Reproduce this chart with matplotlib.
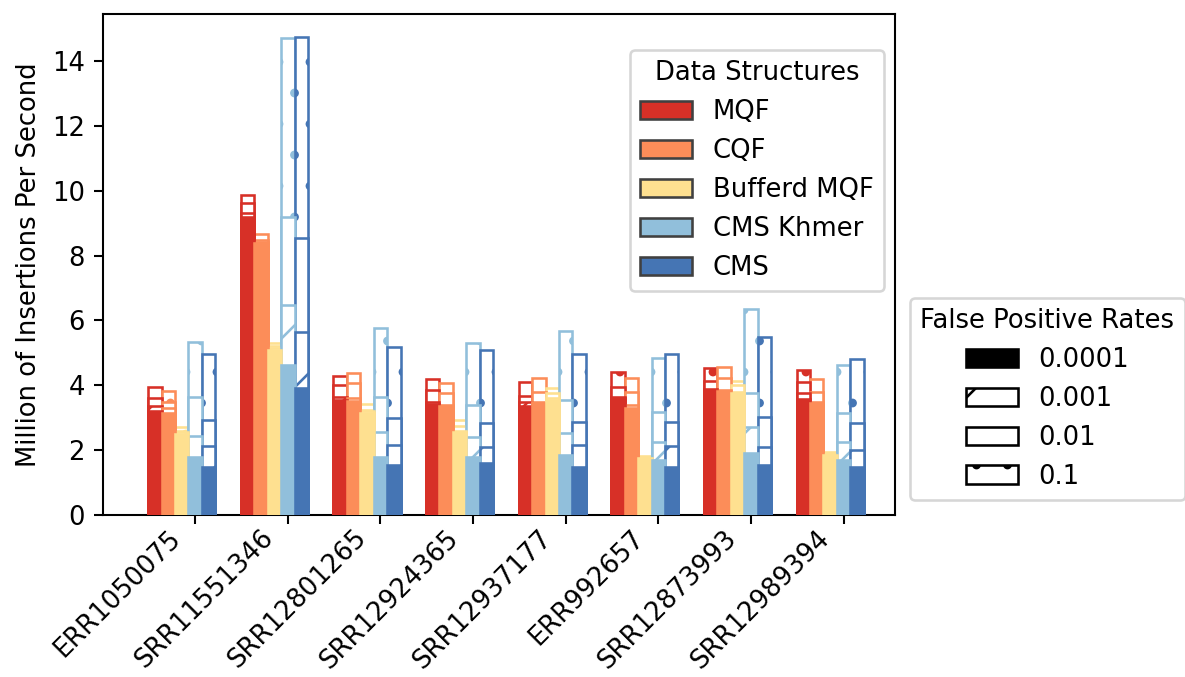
import matplotlib
matplotlib.use("Agg")
import matplotlib.pyplot as plt
from matplotlib.patches import Patch
from matplotlib.transforms import ScaledTranslation
import numpy as np

datasets = ['ERR1050075', 'SRR11551346', 'SRR12801265', 'SRR12924365',
            'SRR12937177', 'ERR992657', 'SRR12873993', 'SRR12989394']
structures = ['MQF', 'CQF', 'Bufferd MQF', 'CMS Khmer', 'CMS']
fpr_labels = ['0.0001', '0.001', '0.01', '0.1']

# throughput (million insertions / s) per dataset, for FPR 0.0001, 0.001, 0.01, 0.1
mqf = [[3.20, 3.35, 3.60, 3.95], [9.20, 9.30, 9.63, 9.87], [3.55, 3.65, 4.00, 4.29],
       [3.43, 3.50, 3.84, 4.18], [3.37, 3.50, 3.66, 4.11], [3.60, 3.65, 3.96, 4.42],
       [3.85, 3.88, 4.14, 4.52], [3.58, 3.75, 4.11, 4.47]]
cqf = [[3.15, 3.30, 3.50, 3.82], [8.38, 8.43, 8.47, 8.66], [3.52, 3.60, 4.06, 4.37],
       [3.36, 3.40, 3.75, 4.08], [3.45, 3.49, 3.80, 4.21], [3.29, 3.39, 3.80, 4.21],
       [3.83, 3.86, 4.21, 4.55], [3.44, 3.50, 3.80, 4.18]]
buffered_mqf = [[2.50, 2.55, 2.60, 2.70], [5.10, 5.15, 5.20, 5.29], [3.15, 3.20, 3.25, 3.42],
                [2.55, 2.60, 2.75, 2.93], [3.55, 3.60, 3.75, 3.91], [1.75, 1.77, 1.79, 1.83],
                [3.75, 3.80, 4.00, 4.14], [1.85, 1.87, 1.89, 1.93]]
cms_khmer = [[1.78, 2.45, 3.64, 5.35], [4.63, 6.48, 9.20, 14.70], [1.80, 2.57, 3.65, 5.76],
             [1.80, 2.41, 3.39, 5.31], [1.85, 2.52, 3.55, 5.68], [1.70, 2.26, 3.19, 4.85],
             [1.92, 2.72, 3.75, 6.34], [1.70, 2.26, 3.14, 4.63]]
cms = [[1.47, 2.13, 2.93, 4.98], [3.91, 5.65, 8.53, 14.75], [1.54, 2.16, 2.98, 5.19],
       [1.59, 2.11, 2.83, 5.09], [1.49, 2.16, 2.88, 4.98], [1.49, 2.12, 2.88, 4.98],
       [1.54, 2.11, 3.01, 5.48], [1.47, 2.00, 2.85, 4.80]]

series = [mqf, cqf, buffered_mqf, cms_khmer, cms]
colors = ['#d73027', '#fc8d59', '#fee090', '#91bfdb', '#4575b4']
hatches = [None, '/', None, '.']  # per FPR level

DPI = 186
fig = plt.figure(figsize=(1185 / DPI, 677 / DPI), dpi=DPI)
ax = fig.add_axes([103 / 1185, 1 - 515 / 677, 792 / 1185, 501 / 677])

ind = np.arange(len(datasets))
w = 0.145

for si, (vals, col) in enumerate(zip(series, colors)):
    arr = np.array(vals)
    x = ind + si * w
    # draw from highest FPR (tallest) to lowest so that all levels remain visible
    for k in [3, 2, 1, 0]:
        fc = col if k == 0 else 'white'
        ax.bar(x, arr[:, k], width=w, facecolor=fc, edgecolor=col,
               linewidth=1.0, hatch=hatches[k], zorder=2 + (3 - k))

ax.set_xlim(-0.56, 7.99)
ax.set_ylim(0, 15.45)
ax.set_xticks(ind + 3 * w)
ax.set_xticklabels(datasets, rotation=45, ha='right', fontsize=10)
offset = ScaledTranslation(-9 / DPI, 8 / DPI, fig.dpi_scale_trans)
for lab in ax.get_xticklabels():
    lab.set_transform(lab.get_transform() + offset)
ax.set_ylabel('Million of Insertions Per Second')

h1 = [Patch(facecolor=c, edgecolor='0.25', linewidth=1.0) for c in colors]
leg1 = ax.legend(h1, structures, title='Data Structures', loc='upper right',
                 bbox_to_anchor=(0.986, 0.928), borderaxespad=0)
ax.add_artist(leg1)

h2 = [Patch(facecolor='black', edgecolor='black'),
      Patch(facecolor='white', edgecolor='black', hatch='/'),
      Patch(facecolor='white', edgecolor='black'),
      Patch(facecolor='white', edgecolor='black', hatch='.')]
ax.legend(h2, fpr_labels, title='False Positive Rates', loc='upper left',
          bbox_to_anchor=(1.019, 0.434), borderaxespad=0)

fig.savefig('out.png', dpi=DPI)
